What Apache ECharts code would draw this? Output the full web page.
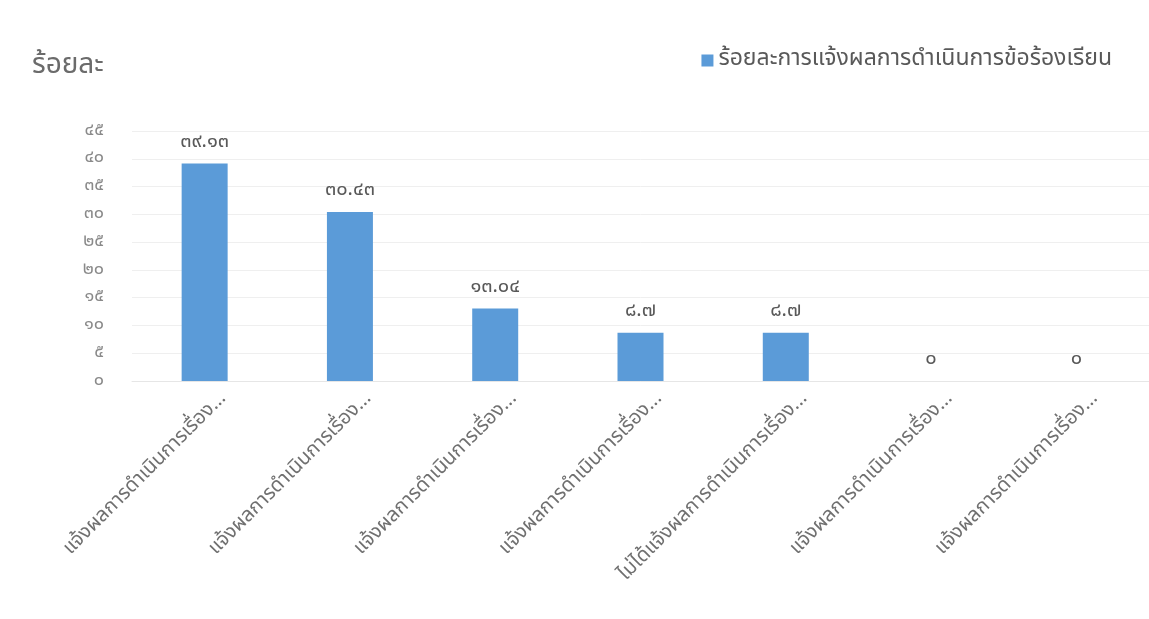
<!DOCTYPE html>
<html>
<head>
<meta charset="utf-8">
<script src="https://cdn.jsdelivr.net/npm/echarts@6/dist/echarts.min.js"></script>
<style>
  html, body { margin: 0; padding: 0; background: #fff; }
  #chart { width: 1149px; height: 619px; }
</style>
</head>
<body>
<div id="chart"></div>
<script>
// Categories (already shortened as they appear on the axis)
const categories = [
  'แจ้งผลการดำเนินการเรื่อง...',
  'แจ้งผลการดำเนินการเรื่อง...',
  'แจ้งผลการดำเนินการเรื่อง...',
  'แจ้งผลการดำเนินการเรื่อง...',
  'ไม่ได้แจ้งผลการดำเนินการเรื่อง...',
  'แจ้งผลการดำเนินการเรื่อง...',
  'แจ้งผลการดำเนินการเรื่อง...'
];
const seriesName = 'ร้อยละการแจ้งผลการดำเนินการข้อร้องเรียน';
const percentValues = [39.13, 30.43, 13.04, 8.7, 8.7, 0, 0];
const yAxisName = 'ร้อยละ';
const yMin = 0, yMax = 45, yStep = 5;

// Render Arabic digits as Thai digits
const thaiDigits = ['๐','๑','๒','๓','๔','๕','๖','๗','๘','๙'];
function toThai(v) {
  return String(v).replace(/[0-9]/g, d => thaiDigits[+d]);
}

const FONT = 'Tahoma, "Noto Sans Thai", "Noto Sans", "DejaVu Sans", sans-serif';
const chart = echarts.init(document.getElementById('chart'));
chart.setOption({
  backgroundColor: '#ffffff',
  textStyle: { fontFamily: FONT },
  legend: {
    data: [seriesName],
    right: 32, top: 44,
    itemWidth: 12, itemHeight: 12, itemGap: 5,
    icon: 'rect',
    textStyle: { color: '#595959', fontSize: 23, fontFamily: FONT }
  },
  grid: { left: 132, width: 1025, top: 131, height: 250, containLabel: false },
  xAxis: {
    type: 'category',
    data: categories,
    axisLine: { show: true, lineStyle: { color: '#e6e6e6' } },
    axisTick: { show: false },
    axisLabel: {
      rotate: 45, interval: 0, color: '#707070', fontSize: 20,
      margin: 20, verticalAlign: 'top', padding: [0, -17, 0, 0], fontFamily: FONT
    }
  },
  yAxis: {
    type: 'value',
    min: yMin, max: yMax, interval: yStep,
    name: yAxisName,
    nameLocation: 'end',
    nameGap: 0,
    nameTextStyle: { color: '#6b6b6b', fontSize: 28, align: 'left', padding: [0, 0, 50, -100] },
    axisLine: { show: false },
    axisTick: { show: false },
    splitLine: { lineStyle: { color: '#efefef' } },
    axisLabel: {
      color: '#8a8a8a', fontSize: 18, margin: 28, align: 'right',
      formatter: v => toThai(v)
    }
  },
  series: [{
    name: seriesName,
    type: 'bar',
    data: percentValues,
    barWidth: 46,
    itemStyle: { color: '#5b9bd8' },
    label: {
      show: true, position: 'top', distance: 11,
      color: '#595959', fontSize: 20,
      formatter: p => toThai(p.value)
    }
  }]
});
</script>
</body>
</html>
